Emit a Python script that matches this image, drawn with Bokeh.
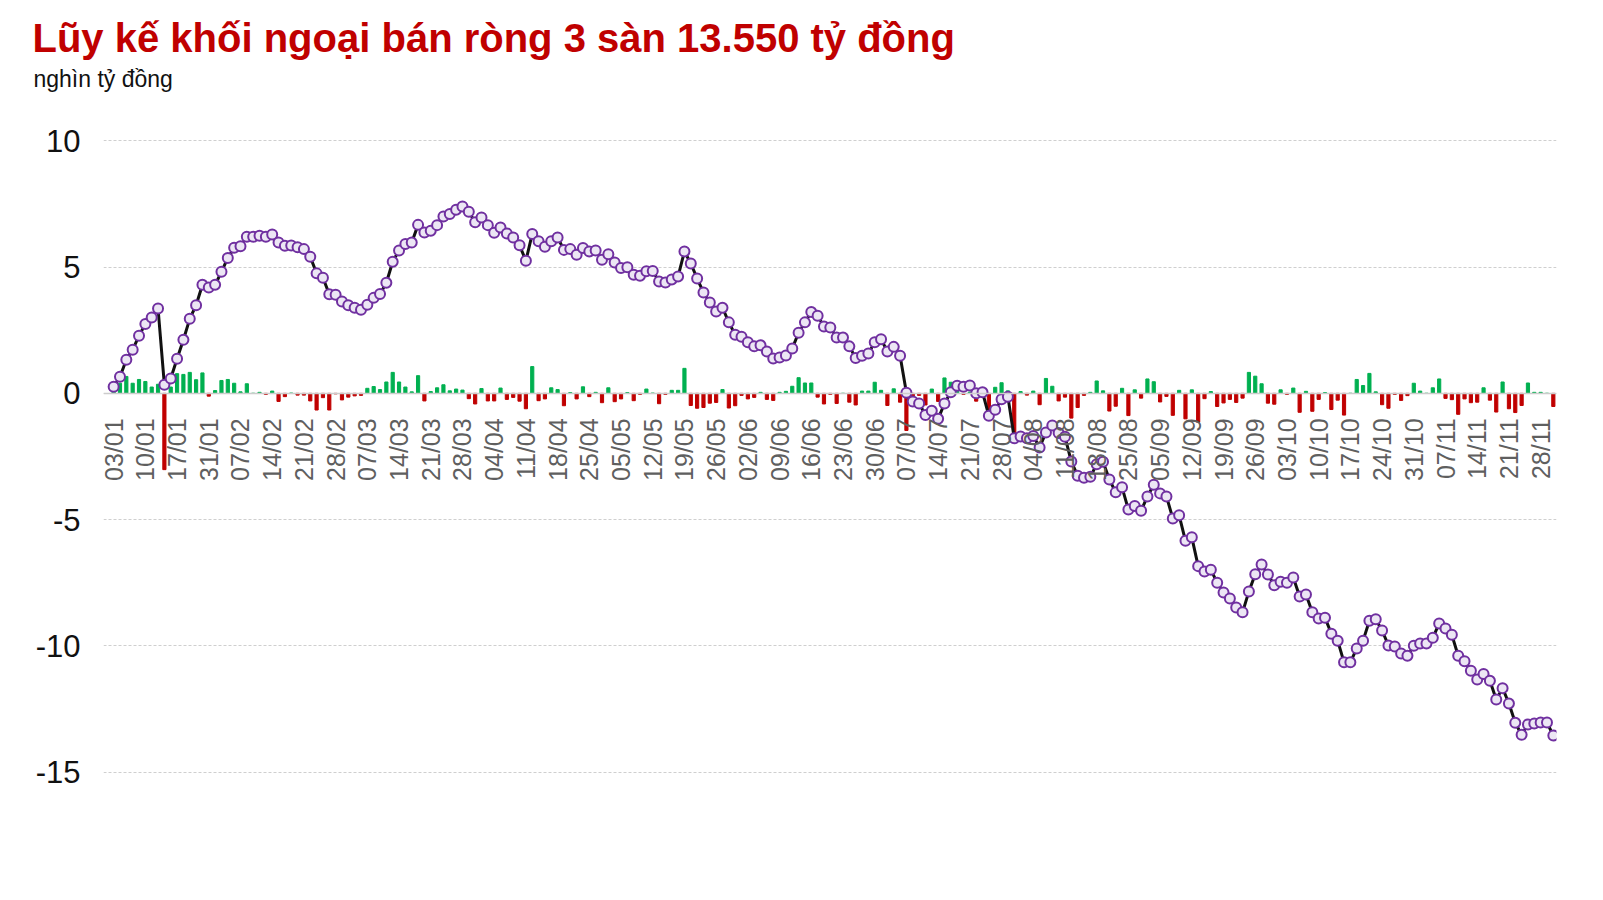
from bokeh.plotting import figure
from bokeh.models import FixedTicker, Range1d, Title
from bokeh.embed import file_html
from bokeh.resources import INLINE
import numpy as np

# cumulative foreign net buy/sell, 3 exchanges (thousand billion VND), one value per session
cum = [0.26, 0.66, 1.33, 1.73, 2.28, 2.75, 3.00, 3.36, 0.34, 0.59,
       1.37, 2.12, 2.95, 3.49, 4.30, 4.19, 4.30, 4.81, 5.36, 5.76,
       5.82, 6.20, 6.20, 6.24, 6.20, 6.29, 5.97, 5.84, 5.85, 5.78,
       5.71, 5.41, 4.75, 4.58, 3.92, 3.90, 3.64, 3.49, 3.39, 3.31,
       3.51, 3.78, 3.93, 4.38, 5.21, 5.66, 5.91, 5.97, 6.67, 6.37,
       6.44, 6.66, 7.00, 7.10, 7.27, 7.40, 7.19, 6.77, 6.96, 6.66,
       6.36, 6.57, 6.33, 6.17, 5.86, 5.25, 6.31, 6.02, 5.80, 6.02,
       6.17, 5.68, 5.71, 5.49, 5.75, 5.62, 5.66, 5.29, 5.51, 5.18,
       4.96, 4.99, 4.70, 4.66, 4.83, 4.84, 4.43, 4.39, 4.51, 4.63,
       5.62, 5.14, 4.55, 3.99, 3.60, 3.24, 3.39, 2.81, 2.32, 2.24,
       2.02, 1.86, 1.90, 1.66, 1.38, 1.42, 1.50, 1.78, 2.40, 2.81,
       3.22, 3.07, 2.65, 2.61, 2.21, 2.21, 1.86, 1.40, 1.49, 1.58,
       2.02, 2.14, 1.66, 1.84, 1.49, 0.02, -0.32, -0.40, -0.86, -0.69,
       -1.01, -0.40, 0.04, 0.30, 0.26, 0.31, 0.00, 0.04, -0.89, -0.65,
       -0.23, -0.13, -1.78, -1.71, -1.78, -1.69, -2.14, -1.55, -1.27, -1.57,
       -1.72, -2.70, -3.26, -3.34, -3.30, -2.81, -2.71, -3.41, -3.92, -3.72,
       -4.60, -4.46, -4.65, -4.08, -3.62, -3.96, -4.08, -4.95, -4.83, -5.84,
       -5.70, -6.84, -7.05, -6.98, -7.50, -7.88, -8.12, -8.48, -8.67, -7.84,
       -7.16, -6.78, -7.17, -7.60, -7.46, -7.50, -7.29, -8.04, -7.96, -8.67,
       -8.91, -8.88, -9.52, -9.79, -10.65, -10.65, -10.10, -9.79, -9.00, -8.94,
       -9.39, -9.98, -10.02, -10.30, -10.39, -9.99, -9.90, -9.90, -9.68, -9.11,
       -9.31, -9.56, -10.39, -10.61, -10.98, -11.33, -11.11, -11.38, -12.12, -11.67,
       -12.28, -13.04, -13.52, -13.11, -13.07, -13.03, -13.03, -13.55]

# one label every 5 sessions
tick_labels = ["03/01", "10/01", "17/01", "31/01", "07/02", "14/02", "21/02", "28/02",
               "07/03", "14/03", "21/03", "28/03", "04/04", "11/04", "18/04", "25/04",
               "05/05", "12/05", "19/05", "26/05", "02/06", "09/06", "16/06", "23/06",
               "30/06", "07/07", "14/07", "21/07", "28/07", "04/08", "11/08", "18/08",
               "25/08", "05/09", "12/09", "19/09", "26/09", "03/10", "10/10", "17/10",
               "24/10", "31/10", "07/11", "14/11", "21/11", "28/11"]

y_ticks = [-15, -10, -5, 0, 5, 10]

# daily net value = change of the cumulative line
daily = [cum[0]] + [round(cum[i] - cum[i - 1], 2) for i in range(1, len(cum))]
idx = list(range(len(cum)))
bar_colors = ["#00b050" if d >= 0 else "#c00000" for d in daily]

FONT = "Liberation Sans"

p = figure(width=1588, height=888, output_backend="svg", toolbar_location=None, tools="",
           x_range=Range1d(-1.6, len(cum) - 0.5), y_range=Range1d(-16, 11),
           min_border_left=103, min_border_right=32, min_border_top=115, min_border_bottom=91,
           title="Lũy kế khối ngoại bán ròng 3 sàn 13.550 tỷ đồng")
p.title.text_font = FONT
p.title.text_font_size = "40px"
p.title.text_font_style = "bold"
p.title.text_color = "#c00000"
p.title.align = "left"
p.title.offset = -71
# pull the title down close to the unit line
p.title.standoff = -40

sub = Title(text="nghìn tỷ đồng", text_font=FONT, text_font_size="23px",
            text_font_style="normal", text_color="#111111", align="left", offset=-70,
            standoff=48)
p.add_layout(sub, "above")

p.outline_line_color = None
p.background_fill_color = "white"
p.border_fill_color = "white"

p.vbar(x=idx, top=daily, width=0.5, color=bar_colors)
p.line(idx, cum, color="#111111", line_width=3)
p.scatter(idx, cum, size=10, fill_color="#ece6f4", line_color="#7030a0", line_width=2)

# y axis
p.yaxis.ticker = FixedTicker(ticks=y_ticks)
p.yaxis.major_label_overrides = {t: str(t) for t in y_ticks}
p.yaxis.axis_line_color = None
p.yaxis.major_tick_line_color = None
p.yaxis.minor_tick_line_color = None
p.yaxis.major_label_text_font = FONT
p.yaxis.major_label_text_font_size = "31px"
p.yaxis.major_label_text_color = "#111111"
p.yaxis.major_label_standoff = 17

p.ygrid.ticker = FixedTicker(ticks=y_ticks)
p.ygrid.grid_line_color = "#cfcfcf"
p.ygrid.grid_line_dash = "3 2"
p.ygrid.grid_line_width = 1
p.xgrid.visible = False

# x axis sits on the zero line
p.xaxis.fixed_location = 0
p.xaxis.ticker = FixedTicker(ticks=idx[::5])
p.xaxis.major_label_overrides = {i * 5: lab for i, lab in enumerate(tick_labels)}
p.xaxis.major_label_orientation = np.pi / 2
p.xaxis.axis_line_color = "#cccccc"
p.xaxis.axis_line_width = 1.5
p.xaxis.major_tick_line_color = None
p.xaxis.minor_tick_line_color = None
p.xaxis.major_label_text_font = FONT
p.xaxis.major_label_text_font_size = "25px"
p.xaxis.major_label_text_color = "#5f5f5f"
p.xaxis.major_label_standoff = 19

open("out.html", "w", encoding="utf-8").write(file_html(p, INLINE))
